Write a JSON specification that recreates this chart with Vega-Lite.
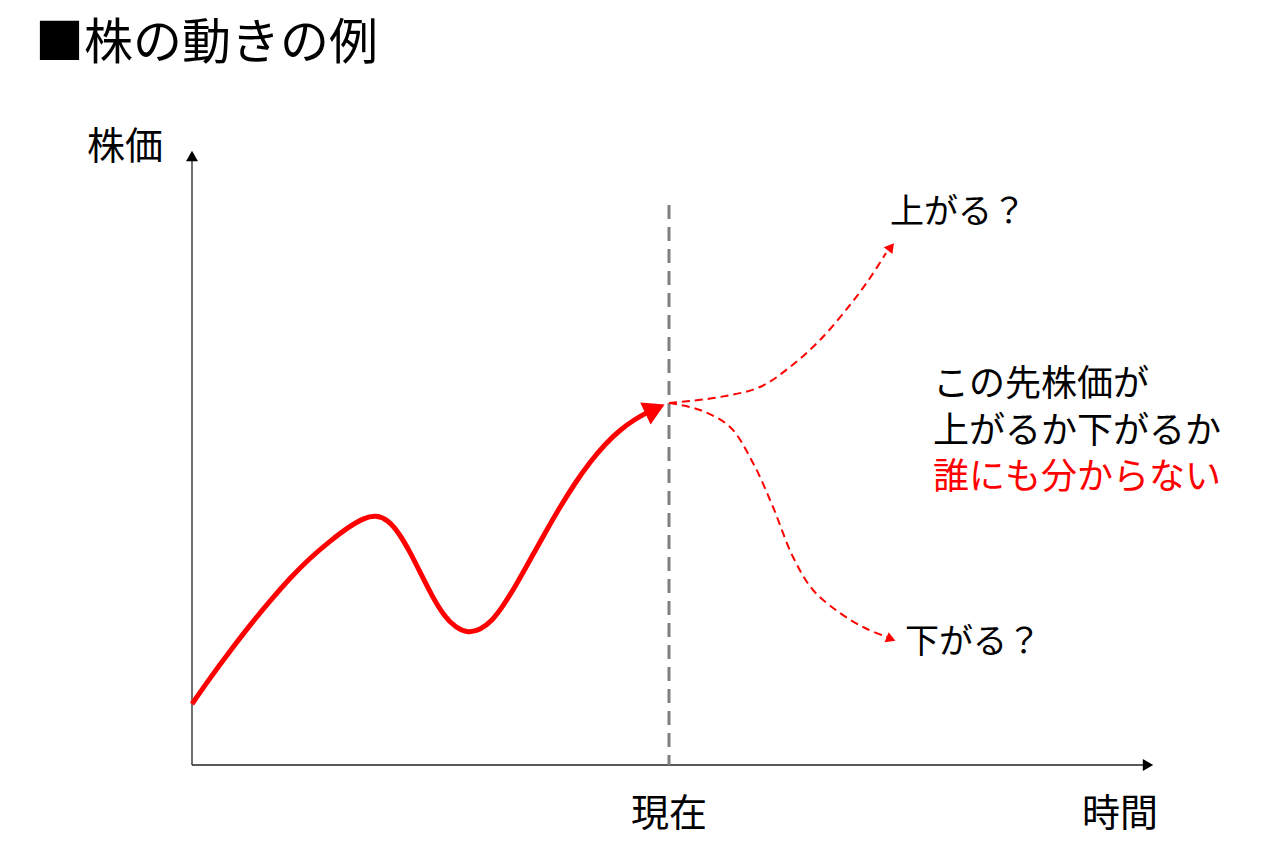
{
  "$schema": "https://vega.github.io/schema/vega-lite/v6.json",
  "width": 1261,
  "height": 867,
  "autosize": "none",
  "padding": 0,
  "background": "white",
  "config": {"view": {"stroke": null}, "text": {"font": "Noto Sans CJK JP"}},
  "encoding": {
    "x": {"field": "x", "type": "quantitative", "axis": null, "scale": {"domain": [0, 1261], "nice": false, "zero": false}},
    "y": {"field": "y", "type": "quantitative", "axis": null, "scale": {"domain": [0, 867], "nice": false, "zero": false, "reverse": true}}
  },
  "layer": [
    {
      "data": {"values": [
        {"x": 192, "y": 765, "x2": 192, "y2": 158},
        {"x": 192, "y": 765, "x2": 1146, "y2": 765}
      ]},
      "mark": {"type": "rule", "color": "#222222", "strokeWidth": 1.3},
      "encoding": {"x2": {"field": "x2"}, "y2": {"field": "y2"}}
    },
    {
      "data": {"values": [{"x": 192, "y": 156}]},
      "mark": {"type": "point", "shape": "triangle-up", "filled": true, "color": "black", "opacity": 1, "size": 144}
    },
    {
      "data": {"values": [{"x": 1148, "y": 765}]},
      "mark": {"type": "point", "shape": "triangle-right", "filled": true, "color": "black", "opacity": 1, "size": 144}
    },
    {
      "data": {"values": [{"x": 669, "y": 205, "x2": 669, "y2": 765}]},
      "mark": {"type": "rule", "color": "#7f7f7f", "strokeWidth": 3, "strokeDash": [14, 8]},
      "encoding": {"x2": {"field": "x2"}, "y2": {"field": "y2"}}
    },
    {
      "data": {"values": [
        {"x": 192, "y": 704}, {"x": 210, "y": 678}, {"x": 230, "y": 651}, {"x": 250, "y": 625},
        {"x": 270, "y": 601}, {"x": 290, "y": 578}, {"x": 310, "y": 558}, {"x": 330, "y": 541},
        {"x": 350, "y": 526}, {"x": 364, "y": 518}, {"x": 376, "y": 515}, {"x": 388, "y": 520},
        {"x": 399, "y": 533}, {"x": 410, "y": 552}, {"x": 420, "y": 572}, {"x": 432, "y": 596},
        {"x": 444, "y": 616}, {"x": 456, "y": 628}, {"x": 468, "y": 633}, {"x": 480, "y": 630},
        {"x": 492, "y": 621}, {"x": 503, "y": 606}, {"x": 515, "y": 587}, {"x": 530, "y": 560},
        {"x": 545, "y": 533}, {"x": 560, "y": 507}, {"x": 575, "y": 483}, {"x": 590, "y": 462},
        {"x": 605, "y": 444}, {"x": 620, "y": 430}, {"x": 635, "y": 419}, {"x": 650, "y": 411}
      ]},
      "mark": {"type": "line", "color": "#ff0000", "strokeWidth": 5, "interpolate": "basis"}
    },
    {
      "data": {"values": [{"x": 655, "y": 409}]},
      "mark": {"type": "point", "shape": "triangle-right", "filled": true, "color": "#ff0000", "opacity": 1, "size": 600, "angle": -25}
    },
    {
      "data": {"values": [
        {"x": 669, "y": 403}, {"x": 690, "y": 401}, {"x": 720, "y": 397}, {"x": 760, "y": 387},
        {"x": 790, "y": 367}, {"x": 820, "y": 340}, {"x": 850, "y": 305}, {"x": 870, "y": 278},
        {"x": 886, "y": 253}
      ]},
      "mark": {"type": "line", "color": "#ff0000", "strokeWidth": 2, "strokeDash": [8, 5], "interpolate": "catmull-rom"}
    },
    {
      "data": {"values": [
        {"x": 669, "y": 403}, {"x": 700, "y": 410}, {"x": 730, "y": 427}, {"x": 753, "y": 463},
        {"x": 773, "y": 507}, {"x": 793, "y": 557}, {"x": 813, "y": 590}, {"x": 840, "y": 613},
        {"x": 865, "y": 628}, {"x": 887, "y": 637}
      ]},
      "mark": {"type": "line", "color": "#ff0000", "strokeWidth": 2, "strokeDash": [8, 5], "interpolate": "catmull-rom"}
    },
    {
      "data": {"values": [{"x": 891, "y": 247}]},
      "mark": {"type": "point", "shape": "triangle-right", "filled": true, "color": "#ff0000", "opacity": 1, "size": 120, "angle": -52}
    },
    {
      "data": {"values": [{"x": 891, "y": 639}]},
      "mark": {"type": "point", "shape": "triangle-right", "filled": true, "color": "#ff0000", "opacity": 1, "size": 120, "angle": 22}
    },
    {
      "data": {"values": [{"x": 35, "y": 44, "label": "■株の動きの例"}]},
      "mark": {"type": "text", "align": "left", "baseline": "middle", "fontSize": 49, "color": "black"},
      "encoding": {"text": {"field": "label"}}
    },
    {
      "data": {"values": [
        {"x": 125, "y": 148, "label": "株価"},
        {"x": 669, "y": 815, "label": "現在"},
        {"x": 1120, "y": 815, "label": "時間"}
      ]},
      "mark": {"type": "text", "align": "center", "baseline": "middle", "fontSize": 38, "color": "black"},
      "encoding": {"text": {"field": "label"}}
    },
    {
      "data": {"values": [
        {"x": 890, "y": 213, "label": "上がる？"},
        {"x": 905, "y": 643, "label": "下がる？"}
      ]},
      "mark": {"type": "text", "align": "left", "baseline": "middle", "fontSize": 34, "color": "black"},
      "encoding": {"text": {"field": "label"}}
    },
    {
      "data": {"values": [
        {"x": 933, "y": 385, "label": "この先株価が"},
        {"x": 933, "y": 432, "label": "上がるか下がるか"}
      ]},
      "mark": {"type": "text", "align": "left", "baseline": "middle", "fontSize": 36, "color": "black"},
      "encoding": {"text": {"field": "label"}}
    },
    {
      "data": {"values": [
        {"x": 933, "y": 478, "label": "誰にも分からない"}
      ]},
      "mark": {"type": "text", "align": "left", "baseline": "middle", "fontSize": 36, "color": "#ff0000"},
      "encoding": {"text": {"field": "label"}}
    }
  ]
}
